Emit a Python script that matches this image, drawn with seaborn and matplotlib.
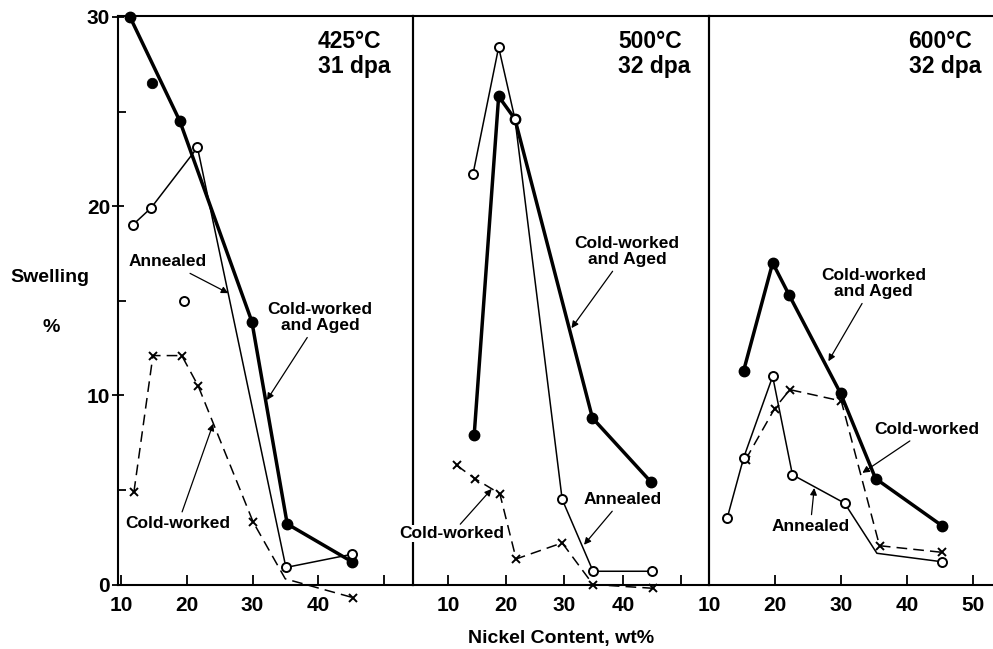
import matplotlib
matplotlib.use("Agg")
import matplotlib.pyplot as plt
import seaborn as sns

# ---------------- data ----------------
panel_titles = ["425\u00b0C\n31 dpa", "500\u00b0C\n32 dpa", "600\u00b0C\n32 dpa"]
x_ticks = [10, 20, 30, 40, 50]
x_ticklabels_12 = ["10", "20", "30", "40", ""]
x_ticklabels_3 = ["10", "20", "30", "40", "50"]
y_major = [0, 10, 20, 30]
y_minor = [5, 15, 25]

# 425 C panel
p1_cwa_x = [11.3, 18.9, 29.9, 35.3, 45.2]
p1_cwa_y = [30.0, 24.5, 13.9, 3.2, 1.2]
p1_cwa_extra_x = [14.6]
p1_cwa_extra_y = [26.5]
p1_ann_x = [11.7, 14.5, 21.6, 35.1, 45.2]
p1_ann_y = [19.0, 19.9, 23.1, 0.9, 1.6]
p1_ann_extra_x = [19.5]
p1_ann_extra_y = [15.0]
p1_cw_x = [11.9, 14.8, 19.2, 21.7, 30.1, 35.0, 45.4]
p1_cw_y = [4.9, 12.1, 12.1, 10.5, 3.3, 0.3, -0.7]

# 500 C panel
p2_cwa_x = [14.5, 18.7, 21.5, 34.8, 44.9]
p2_cwa_y = [7.9, 25.8, 24.6, 8.8, 5.4]
p2_ann_x = [14.3, 18.7, 21.5, 29.6, 34.9, 45.1]
p2_ann_y = [21.7, 28.4, 24.6, 4.5, 0.7, 0.7]
p2_cw_x = [11.5, 14.6, 18.9, 21.7, 29.6, 34.9, 45.2]
p2_cw_y = [6.3, 5.6, 4.8, 1.35, 2.2, 0.0, -0.2]

# 600 C panel
p3_cwa_x = [15.2, 19.6, 22.1, 29.9, 35.2, 45.3]
p3_cwa_y = [11.3, 17.0, 15.3, 10.1, 5.6, 3.1]
p3_ann_x = [12.7, 15.2, 19.6, 22.6, 30.5, 35.4, 45.3]
p3_ann_y = [3.5, 6.7, 11.0, 5.8, 4.3, 1.65, 1.2]
p3_cw_x = [15.5, 19.9, 22.2, 30.0, 35.8, 45.3]
p3_cw_y = [6.6, 9.3, 10.3, 9.7, 2.05, 1.7]

# ---------------- style ----------------
sns.set_style("white")
plt.rcParams["font.family"] = ["Liberation Sans", "DejaVu Sans"]
plt.rcParams["font.weight"] = "bold"
for key in ["text.color", "axes.labelcolor", "xtick.color", "ytick.color",
            "axes.edgecolor"]:
    plt.rcParams[key] = "black"

W, H = 993, 649
fig = plt.figure(figsize=(W / 100, H / 100), dpi=100)


def rect(left, right, top=16, bottom=584.5):
    return [left / W, 1 - bottom / H, (right - left) / W, (bottom - top) / H]


axes = [fig.add_axes(rect(117.5, 413)),
        fig.add_axes(rect(413, 709)),
        fig.add_axes(rect(709, 993))]
xlims = [(9.39, 54.5), (4.0, 54.8), (9.95, 53.0)]

LW_SPINE = 1.5


def cwa(ax, x, y, markevery=None):
    sns.lineplot(x=x, y=y, ax=ax, sort=False, estimator=None, color="black",
                 lw=2.5, marker="o", ms=7.5, mfc="black", mec="black", mew=1,
                 clip_on=False, zorder=3, markevery=markevery)


def ann(ax, x, y, markevery=None):
    sns.lineplot(x=x, y=y, ax=ax, sort=False, estimator=None, color="black",
                 lw=1.1, marker="o", ms=6.5, mfc="white", mec="black", mew=1.4,
                 clip_on=False, zorder=4, markevery=markevery)


def cw(ax, x, y, markevery=None):
    sns.lineplot(x=x, y=y, ax=ax, sort=False, estimator=None, color="black",
                 lw=1.1, linestyle=(0, (7, 4)), marker="x", ms=6, mec="black",
                 mew=1.4, clip_on=False, zorder=3, markevery=markevery)


def label(ax, text, xy_text, xy_tip, bg=False):
    kw = {}
    if bg:
        kw["bbox"] = dict(facecolor="white", edgecolor="none", pad=0.5)
    ax.annotate(text, xy=xy_tip, xytext=xy_text, ha="center", va="center",
                fontsize=12.5, fontweight="bold", linespacing=1.05,
                color="black", annotation_clip=False, zorder=6,
                arrowprops=dict(arrowstyle="-|>", color="black", lw=0.9,
                                mutation_scale=10, shrinkA=1, shrinkB=0),
                **kw)


# panel 1
ax = axes[0]
cwa(ax, p1_cwa_x, p1_cwa_y)
sns.scatterplot(x=p1_cwa_extra_x, y=p1_cwa_extra_y, ax=ax, color="black",
                edgecolor="black", s=56, marker="o", zorder=3)
ann(ax, p1_ann_x, p1_ann_y)
sns.scatterplot(x=p1_ann_extra_x, y=p1_ann_extra_y, ax=ax, color="white",
                edgecolor="black", linewidth=1.4, s=42, marker="o", zorder=4)
cw(ax, p1_cw_x, p1_cw_y, markevery=[0, 1, 2, 3, 4, 6])
label(ax, "Annealed", (17.1, 17.05), (26.3, 15.4))
label(ax, "Cold-worked\nand Aged", (40.3, 14.1), (32.2, 9.75))
label(ax, "Cold-worked", (18.6, 3.2), (24.0, 8.5))

# panel 2
ax = axes[1]
cwa(ax, p2_cwa_x, p2_cwa_y)
ann(ax, p2_ann_x, p2_ann_y)
cw(ax, p2_cw_x, p2_cw_y)
label(ax, "Cold-worked\nand Aged", (40.7, 17.6), (31.2, 13.55))
label(ax, "Annealed", (39.9, 4.5), (33.35, 2.1))
label(ax, "Cold-worked", (10.7, 2.7), (17.5, 5.05), bg=True)

# panel 3
ax = axes[2]
cwa(ax, p3_cwa_x, p3_cwa_y)
ann(ax, p3_ann_x, p3_ann_y, markevery=[0, 1, 2, 3, 4, 6])
cw(ax, p3_cw_x, p3_cw_y)
label(ax, "Cold-worked\nand Aged", (34.9, 15.9), (28.05, 11.8))
label(ax, "Cold-worked", (43.0, 8.2), (33.2, 5.9))
label(ax, "Annealed", (25.3, 3.05), (25.9, 5.1))

title_x = [40.0, 39.2, 40.2]
for i, ax in enumerate(axes):
    ax.set_xlim(*xlims[i])
    ax.set_ylim(0, 30.05)
    ax.set_xlabel("")
    ax.set_ylabel("")
    ax.set_xticks(x_ticks)
    ax.set_xticklabels(x_ticklabels_3 if i == 2 else x_ticklabels_12,
                       fontsize=15, fontweight="bold", color="black")
    ax.tick_params(axis="x", direction="in", length=7, width=1.3, pad=8,
                   bottom=True, top=False, colors="black")
    for s in ax.spines.values():
        s.set_linewidth(LW_SPINE)
        s.set_color("black")
    if i == 2:
        ax.spines["right"].set_visible(False)
    if i == 0:
        ax.set_yticks(y_major)
        ax.set_yticklabels([str(v) for v in y_major], fontsize=15,
                           fontweight="bold", color="black")
        ax.set_yticks(y_minor, minor=True)
        ax.tick_params(axis="y", which="major", direction="inout", length=9,
                       width=1.3, pad=0.9, left=True, colors="black")
        ax.tick_params(axis="y", which="minor", direction="in", length=6,
                       width=1.3, left=True, colors="black")
    else:
        ax.set_yticks([])
    ax.text(title_x[i], 29.3, panel_titles[i], ha="left", va="top",
            fontsize=16.5, fontweight="bold", linespacing=1.1, color="black")
    ax.patch.set_alpha(0)

fig.text(50 / W, 1 - 278 / H, "Swelling", ha="center", va="center",
         fontsize=14, fontweight="bold", color="black")
fig.text(51 / W, 1 - 327 / H, "%", ha="center", va="center",
         fontsize=14, fontweight="bold", color="black")
fig.text(561 / W, 1 - 639 / H, "Nickel Content, wt%", ha="center",
         va="center", fontsize=14, fontweight="bold", color="black")

fig.savefig("out.png", dpi=100, facecolor="white")
